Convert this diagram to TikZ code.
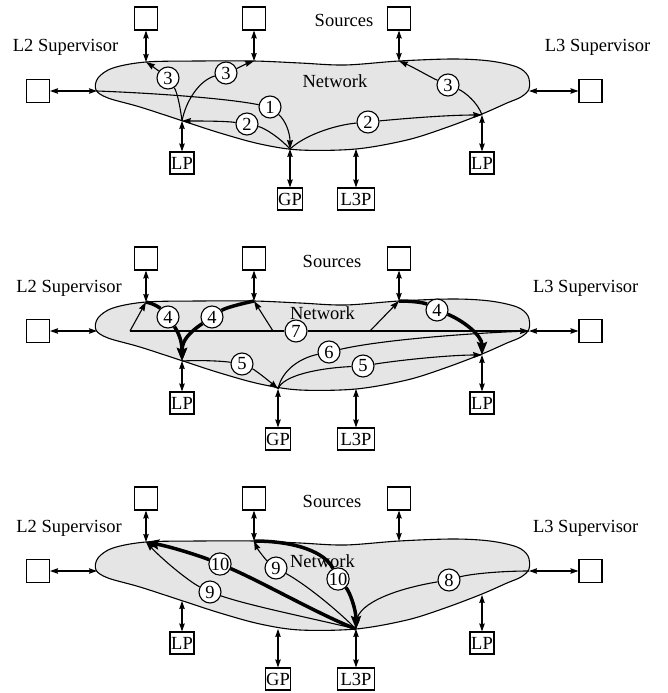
\documentclass[tikz,border=0pt]{standalone}
\usepackage{fontspec}
\setmainfont{Liberation Serif}
\usetikzlibrary{arrows.meta}
\newcommand\lblfont{\fontsize{18.5}{22}\selectfont}
\tikzset{
  srcbox/.style={draw, line width=1.1pt, fill=white, minimum width=23pt, minimum height=23pt, inner sep=0pt},
  labbox/.style={draw, line width=1.1pt, fill=white, minimum width=24pt, minimum height=22pt, inner xsep=0.5pt, inner ysep=0pt, font=\lblfont},
  circ/.style={draw, circle, line width=1.1pt, fill=white, minimum size=22pt, inner sep=0pt, font=\lblfont},
  txt/.style={font=\lblfont, inner sep=0pt, anchor=base},
  netblob/.style={draw, line width=1.1pt, fill=black!10},
  dbl/.style={line width=1.1pt, {Stealth[length=8pt,width=5.5pt,inset=1pt]}-{Stealth[length=8pt,width=5.5pt,inset=1pt]}},
  flow/.style={line width=1.1pt, -{Stealth[length=9pt,width=6pt,inset=1pt]}},
  plainflow/.style={line width=1.1pt},
  heavy/.style={line width=3.5pt, -{Stealth[length=13pt,width=10pt,inset=2pt]}},
}
\newcommand\basepanel[5]{%
  \draw[netblob] plot[smooth cycle, tension=0.55] coordinates {
    (96,90) (98,78) (113,68) (146,62) (200,61) (254,61) (300,63) (345,65)
    (399,61) (453,59) (490,61) (517,67) (528,76) (529,89) (521,97) (507,103)
    (482,114) (445,128) (407,140) (356,149) (300,150) (260,144) (220,133)
    (183,121) (140,107) (108,98)};
  \coordinate (#1sl) at (97,91);
  \coordinate (#1sr) at (529,91);
  \coordinate (#1s1) at (146,62);
  \coordinate (#1s2) at (254,61);
  \coordinate (#1s3) at (399,61);
  \coordinate (#1p1) at (182,121);
  \coordinate (#1p2) at (482,115);
  \coordinate (#1gp) at (#2,149);
  \coordinate (#1l3) at (356,149);
  \node[srcbox] (#1b1) at (146,18.5) {};
  \node[srcbox] (#1b2) at (254,18.5) {};
  \node[srcbox] (#1b3) at (399,18.5) {};
  \node[srcbox] (#1bl) at (38,91) {};
  \node[srcbox] (#1br) at (590.5,91) {};
  \node[labbox] (#1lpa) at (182,163) {LP};
  \node[labbox] (#1lpb) at (482,163) {LP};
  \node[labbox] (#1gpb) at (#2,199) {GP};
  \node[labbox, minimum width=37pt] (#1l3b) at (356,199) {L3P};
  \node[txt] (#1src) at (#3,27) {Sources};
  \node[txt] (#1l2t) at (#4,52) {L2 Supervisor};
  \node[txt] (#1l3t) at (#5,52) {L3 Supervisor};
  \draw[dbl] (#1b1) -- (#1s1);
  \draw[dbl] (#1b2) -- (#1s2);
  \draw[dbl] (#1b3) -- (#1s3);
  \draw[dbl] (#1bl) -- (#1sl);
  \draw[dbl] (#1br) -- (#1sr);
  \draw[dbl] (#1lpa) -- (#1p1);
  \draw[dbl] (#1lpb) -- (#1p2);
  \draw[dbl] (#1gpb) -- (#1gp);
  \draw[dbl] (#1l3b) -- (#1l3);
}
\begin{document}
\begin{tikzpicture}[x=1pt,y=-1pt]
\useasboundingbox (0,0) rectangle (667,693);
% ---------- panel 1 ----------
\basepanel{a}{290}{344}{65.5}{597.5}
\node[txt] (anet) at (335,87) {Network};
\node[circ] (ac1) at (270,107) {1};
\node[circ] (ac2a) at (247,124) {2};
\node[circ] (ac2b) at (368,122) {2};
\node[circ] (ac3a) at (168,78) {3};
\node[circ] (ac3b) at (226,73) {3};
\node[circ] (ac3c) at (448,85) {3};
\draw[flow] (asl) .. controls (150,93) and (225,98) .. (ac1) .. controls (285,120) and (290,132) .. (agp);
\draw[flow] (agp) .. controls (280,138) and (265,128) .. (ac2a) .. controls (225,121) and (200,121) .. (ap1);
\draw[flow] (agp) .. controls (305,135) and (335,125) .. (ac2b) .. controls (410,118) and (450,115) .. (ap2);
\draw[flow] (ap1) .. controls (180,105) and (177,92) .. (ac3a) .. controls (160,72) and (152,66) .. (as1);
\draw[flow] (ap1) .. controls (186,100) and (200,80) .. (ac3b) .. controls (238,68) and (248,63) .. (as2);
\draw[flow] (ap2) .. controls (478,103) and (465,92) .. (ac3c) .. controls (430,77) and (415,68) .. (as3);
% ---------- panel 2 ----------
\begin{scope}[yshift=-240pt]
\basepanel{b}{278}{332}{69}{585.7}
\node[txt] (bnet) at (322.5,79.5) {Network};
\coordinate (bh1) at (130,91);
\coordinate (bh2) at (273,91);
\coordinate (bh3) at (370,91);
\node[circ] (bc4a) at (168,77) {4};
\node[circ] (bc4b) at (212,77) {4};
\node[circ] (bc4c) at (437,70) {4};
\node[circ] (bc7) at (296,91) {7};
\node[circ] (bc5a) at (242,124) {5};
\node[circ] (bc5b) at (363,126) {5};
\node[circ] (bc6) at (329,112) {6};
\draw[flow] (bh1) -- (bc7) -- (bsr);
\draw[flow] (bh1) -- (bs1);
\draw[flow] (bh2) -- (bs2);
\draw[flow] (bh3) -- (bs3);
\draw[heavy] (bs1) .. controls (155,64) and (160,68) .. (bc4a) .. controls (178,92) and (182,100) .. (bp1);
\draw[heavy] (bs2) .. controls (240,64) and (225,68) .. (bc4b) .. controls (190,92) and (182,100) .. (bp1);
\draw[heavy] (bs3) .. controls (415,61) and (425,63) .. (bc4c) .. controls (462,80) and (482,95) .. (bp2);
\draw[flow] (bp1) .. controls (200,120) and (222,121) .. (bc5a) .. controls (255,130) and (268,140) .. (bgp);
\draw[flow] (bgp) .. controls (283,135) and (320,128) .. (bc5b) .. controls (400,120) and (450,115) .. (bp2);
\draw[plainflow] (bgp) .. controls (282,130) and (300,118) .. (bc6) .. controls (380,100) and (470,93) .. (bsr);
\end{scope}
% ---------- panel 3 ----------
\begin{scope}[yshift=-480pt]
\basepanel{c}{278}{332}{69}{585.7}
\node[txt] (cnet) at (322.5,87) {Network};
\node[circ] (cc8) at (449,100) {8};
\node[circ] (cc9a) at (210,112) {9};
\node[circ] (cc9b) at (276,88) {9};
\node[circ] (cc10a) at (220,84) {10};
\node[circ] (cc10b) at (338,99) {10};
\draw[flow] (csr) .. controls (500,91) and (470,94) .. (cc8) .. controls (400,108) and (358,122) .. (cl3);
\draw[flow] (cl3) .. controls (320,140) and (250,126) .. (cc9a) .. controls (190,102) and (165,82) .. (cs1);
\draw[flow] (cl3) .. controls (335,128) and (305,104) .. (cc9b) .. controls (266,80) and (258,70) .. (cs2);
\draw[heavy] (cl3) .. controls (320,135) and (262,102) .. (cc10a) .. controls (200,76) and (172,67) .. (cs1);
\draw[heavy] (cs2) .. controls (295,61) and (325,72) .. (cc10b) .. controls (350,112) and (356,130) .. (cl3);
\end{scope}
\end{tikzpicture}
\end{document}
